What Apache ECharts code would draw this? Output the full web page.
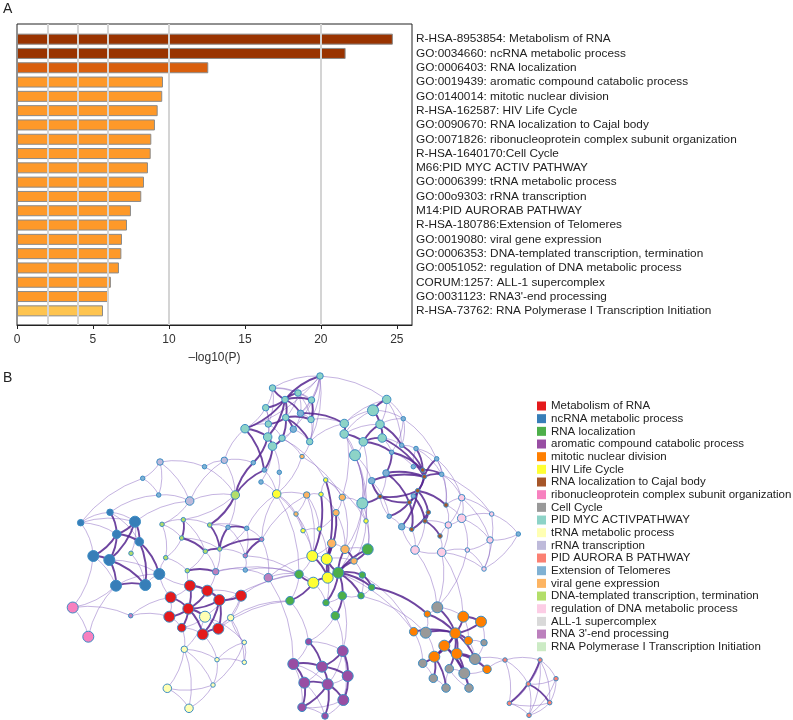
<!DOCTYPE html>
<html><head><meta charset="utf-8">
<script src="https://cdn.jsdelivr.net/npm/echarts@6/dist/echarts.min.js"></script>
<style>html,body{margin:0;padding:0;background:#fff}#c{width:793px;height:720px}</style>
</head><body><div id="c"></div>
<script>
// ---------- Panel A data ----------
const termLabels = [
  "R-HSA-8953854: Metabolism of RNA",
  "GO:0034660: ncRNA metabolic process",
  "GO:0006403: RNA localization",
  "GO:0019439: aromatic compound catabolic process",
  "GO:0140014: mitotic nuclear division",
  "R-HSA-162587: HIV Life Cycle",
  "GO:0090670: RNA localization to Cajal body",
  "GO:0071826: ribonucleoprotein complex subunit organization",
  "R-HSA-1640170:Cell Cycle",
  "M66:PID MYC ACTIV PATHWAY",
  "GO:0006399: tRNA metabolic process",
  "GO:00o9303: rRNA transcription",
  "M14:PID AURORAB PATHWAY",
  "R-HSA-180786:Extension of Telomeres",
  "GO:0019080: viral gene expression",
  "GO:0006353: DNA-templated transcription, termination",
  "GO:0051052: regulation of DNA metabolic process",
  "CORUM:1257: ALL-1 supercomplex",
  "GO:0031123: RNA3'-end processing",
  "R-HSA-73762: RNA Polymerase I Transcription Initiation"
];
const termValues = [24.74, 21.63, 12.59, 9.61, 9.56, 9.26, 9.08, 8.84, 8.80, 8.62,
                    8.36, 8.18, 7.50, 7.24, 6.91, 6.87, 6.71, 6.18, 6.05, 5.66];
const gridLineValues = [2, 4, 6, 10, 20];
const axisMax = 26;
const axisTickStep = 5;

// ---------- Panel B data ----------
const clusterNames = [
  "Metabolism of RNA", "ncRNA metabolic process", "RNA localization",
  "aromatic compound catabolic process", "mitotic nuclear division", "HIV Life Cycle",
  "RNA localization to Cajal body", "ribonucleoprotein complex subunit organization",
  "Cell Cycle", "PID MYC ACTIVPATHWAY", "tRNA metabolic process", "rRNA transcription",
  "PID AURORA B PATHWAY", "Extension of Telomeres", "viral gene expression",
  "DNA-templated transcription, termination", "regulation of DNA metabolic process",
  "ALL-1 supercomplex", "RNA 3'-end processing", "RNA Polymerase I Transcription Initiation"
];
const clusterColors = [
  "#e41a1c", "#377eb8", "#4daf4a", "#984ea3", "#ff7f00", "#ffff33", "#a65628", "#f781bf",
  "#999999", "#8dd3c7", "#ffffb3", "#bebada", "#fb8072", "#80b1d3", "#fdb462", "#b3de69",
  "#fccde5", "#d9d9d9", "#bc80bd", "#ccebc5"
];
// [id, layoutX, layoutY, sizeClass, cluster]
const nodes = [
  ['t0',260,6,2,9],['t1',212.5,18,2,9],['t2',238,23,2,9],['t3',225,29.5,2,9],['t4',251.5,30,2,9],
  ['t5',205.7,37.7,2,9],['t6',240.5,43.3,2,13],['t7',225.7,47.5,2,9],['t8',251,49.5,2,9],
  ['t9',185,58.7,3,9],['t10',208.3,54,2,9],['t11',233.3,59.2,2,13],['t12',207.7,67,3,9],
  ['t13',222,68.2,2,9],['t14',212.5,76.2,3,9],['t15',249.7,71.7,2,9],['t16',242,86.5,1,14],
  ['m0',284.3,53.5,3,9],['m1',284.2,64,3,9],['m2',303.3,71.8,3,9],['m3',313,40.3,4,9],
  ['m4',326.7,29.5,3,9],['m5',320,54.3,3,9],['m6',322.2,68,3,9],['m7',295,85.2,4,9],
  ['r0',343.3,48.7,1,13],['r1',341.7,75.3,1,13],['r2',356,78.5,1,13],['r3',331.7,82.3,1,13],
  ['r4',376.7,88.8,1,13],['r5',326,103,2,13],['r6',311.7,110.7,2,13],['r7',362.7,100,1,6],
  ['r8',364.3,106.7,1,6],['r9',381.7,104.3,1,13],['r10',357.7,120.7,1,6],['r11',353.3,126,1,13],
  ['r12',349.3,132.3,1,6],['r13',320,126.5,1,6],['r14',386,135,1,6],['r15',368.3,142.3,1,6],
  ['r16',365,151,1,6],['r17',329.2,146.3,1,13],['r18',341.7,156.7,2,13],['r19',351.7,159.3,1,6],
  ['r20',380,166,1,6],['r21',401.7,127.7,2,16],['r22',401.7,148.3,3,16],['r23',388.3,155,2,16],
  ['r24',431.7,144,1,16],['r25',458.3,164,1,13],['r26',430,170,2,16],['r27',407.3,180,1,16],
  ['r28',381.7,182.3,3,16],['r29',355,180,3,16],['r30',424,199,1,16],['r31',353.3,96.7,1,13],
  ['y0',216.7,124,3,5],['y1',246.7,125,2,14],['y2',261,124.3,1,5],['y3',265.7,110,1,5],
  ['y4',282.3,127.3,2,14],['y5',236,144,1,14],['y6',276,142.7,2,14],['y7',243,160.7,1,5],
  ['y8',259.3,159,1,5],['y9',306,151,1,5],['y10',302.3,133.3,4,9],['y11',271.7,173.3,3,14],
  ['y12',285,179.3,3,14],['y13',307.7,179.3,4,2],['y14',252.3,186,4,5],['y15',266.7,189,4,5],
  ['y16',294,191,2,14],['y17',239,204.3,3,2],['y18',253.3,212.7,4,5],['y19',267.7,207.7,4,5],
  ['y20',278.3,202.7,4,2],['y21',302.3,205,2,2],['y22',311.7,217.3,2,2],['y23',301,225.7,2,2],
  ['y24',282.3,225.7,3,2],['y25',230,230.7,3,2],['y26',266,232.7,2,2],['y27',275.3,245.7,3,2],
  ['y28',208.3,207.7,3,18],['y29',219.3,102.3,1,13],['y30',204.3,100,1,13],['y31',201,112,1,13],
  ['y32',193.3,92.7,1,13],['y33',175.3,125,3,15],
  ['l0',100,92,2,11],['l1',82.7,108.3,1,13],['l2',98.7,125,1,13],['l3',129.7,131,3,11],
  ['l4',144.5,96.7,1,13],['l5',164.3,90.3,2,11],
  ['b0',20.7,152.7,2,1],['b1',50,142.3,2,1],['b2',75,151.7,4,1],['b3',56.7,164.3,3,1],
  ['b4',79.3,171.7,3,1],['b5',33.3,186,4,1],['b6',49.3,190,4,1],['b7',56,215.7,4,1],
  ['b8',85.3,215,4,1],['b9',99.3,204,4,1],['b10',71,183.3,1,15],
  ['p0',12.7,237.5,4,7],['p1',28.3,266.7,4,7],['p2',70.7,245.7,1,18],
  ['g0',102,154.3,1,15],['g1',123.3,149.7,1,15],['g2',149.7,155,1,15],['g3',168,157.3,1,13],
  ['g4',186.7,158.3,1,13],['g5',121.7,168,1,15],['g6',159.7,179,1,15],['g7',145.3,181.3,1,15],
  ['g8',105.7,187.7,1,15],['g9',127.3,200.7,1,15],['g10',155.7,201.7,2,18],['g11',185.3,185.7,1,18],
  ['g12',201.7,169.3,1,18],['g13',185.3,200,1,13],
  ['e0',130,215.7,4,0],['e1',147.3,220.7,4,0],['e2',159.3,230,4,0],['e3',181,225.7,4,0],
  ['e4',110.7,227.3,4,0],['e5',128.3,238.7,4,0],['e6',109.3,246.7,4,0],['e7',121.7,257.7,3,0],
  ['e8',142.7,264.3,4,0],['e9',158.3,258.7,4,0],
  ['w0',145,246.7,4,10],['w1',170.7,247.7,2,10],['w2',124.3,279.3,2,10],['w3',184.3,272.3,1,10],
  ['w4',157,289.7,1,10],['w5',184.3,292.3,1,10],['w6',153,315,1,10],['w7',107.3,318.3,3,10],
  ['w8',129,338.3,3,10],
  ['a0',248.7,271.7,2,3],['a1',282.7,281,4,3],['a2',233.3,294,4,3],['a3',262,296.7,4,3],
  ['a4',287.7,306,4,3],['a5',244.3,312.7,4,3],['a6',267.7,314.3,4,3],['a7',283.3,330,4,3],
  ['a8',242,337.3,3,3],['a9',265,346,2,3],
  ['o0',377.3,237.3,4,8],['o1',367.3,244,2,4],['o2',403.3,246.7,4,4],['o3',421,251.7,4,4],
  ['o4',353.7,261.7,3,4],['o5',365.7,262.7,4,8],['o6',395.3,263.3,4,4],['o7',408.3,270.7,3,4],
  ['o8',424,272.7,2,8],['o9',384.3,275.7,4,4],['o10',374.3,286.7,4,4],['o11',396.7,283.7,4,4],
  ['o12',415,289,4,8],['o13',362.7,293.3,3,8],['o14',389.3,298.7,3,8],['o15',427,299.3,3,4],
  ['o16',404.3,303.3,4,8],['o17',373.3,308.3,3,8],['o18',386,318,3,8],['o19',409,318,3,8],
  ['o20',445,290,1,12],
  ['u0',480,290,1,12],['u1',496,308.7,1,12],['u2',468.3,314,1,12],['u3',489.7,332.7,1,12],
  ['u4',449.3,333.3,1,12],['u5',469,345.3,1,12]
];
const strongEdges = `t3-t0 t3-t1 t3-t2 t3-t4 t3-t5 t3-t7 t7-t10 t7-t13 t7-t8 t3-t9 t9-t12 t12-t14 t13-t14 t7-t15 t4-t8 t6-m0 t14-y30 t12-y32 t9-y30 t7-t11 t3-t6 t3-t12
m0-m1 m1-m2 m2-m5 m3-m5 m5-m6 m2-m6 m3-m4 m6-r8 m2-r3 m5-r1
r3-r7 r1-r7 r2-r7 r7-r8 r8-r10 r10-r12 r12-r13 r8-r9 r8-r4 r10-r15 r15-r16 r12-r17 r13-r6 r10-r14 r15-r19 r16-r20 r5-r8 r6-r8 r5-r12 r11-r16 r12-r19 r3-r5 r7-r9 r10-r18 r13-y10 r10-r13 r8-r12
y14-y19 y15-y19 y18-y19 y19-y20 y20-y12 y20-y16 y20-y13 y20-y21 y20-y24 y20-y23 y20-y22 y18-y17 y18-y25 y11-y15 y6-y15 y12-y16 y13-y16 y20-y26 y24-y27 y3-y15 y2-y14 y21-y22 y22-o1 y19-y11 y20-y15
a0-a3 a1-a3 a2-a3 a3-a4 a3-a6 a2-a5 a5-a6 a6-a7 a4-a7 a5-a8 a6-a9 a1-a4 a6-a8
e0-e5 e1-e5 e2-e5 e3-e2 e4-e5 e5-e6 e5-e7 e1-e2 e2-e8 e8-e9 e2-e9 e5-w0 e0-e1 e5-e8
b2-b3 b2-b4 b3-b4 b3-b5 b3-b6 b5-b6 b6-b7 b4-b8 b6-b8 b7-b8 b4-b9 b2-b6 b1-b3
y33-y32 y33-y30 y33-g2
g1-g5 g5-g7 g7-g6 g6-g3 g2-g6 g6-g12 g3-g4 g11-g12 g9-g10
o0-o6 o1-o6 o2-o6 o3-o6 o4-o6 o5-o6 o6-o9 o6-o10 o6-o11 o6-o12 o6-o14 o9-o10 o9-o13 o9-o16 o11-o16 o11-o12 o10-o17 o10-o18 o9-o19 o11-o15 o6-o7 o2-o3
u2-u3 u0-u4`;
const weakEdges = `t0-t2 t0-t4 t0-t6 t0-t8 t0-t15 t1-t2 t1-t5 t1-t10 t2-t4 t2-t6 t5-t10 t5-t9 t6-t8 t6-t11 t8-t15 t10-t12 t11-t13 t11-t15 t10-t13 t2-t7 t0-t11 t4-t6 t5-t12 t9-t10 t15-t16 t16-y0 t13-t16 t14-y29 t14-y31 t15-m0 t8-m0 t0-m4 t11-t14 t1-t0 t4-t15 t0-t9 t1-t4 t2-t8
m0-m3 m1-m7 m2-m7 m3-m6 m4-m5 m4-r0 m3-r0 m5-r0 m6-r1 m6-r3 m7-y10 m2-y10 m7-r6 m1-m3 m4-r1 m0-m4 m1-m5
r0-r1 r0-r4 r0-r3 r1-r2 r2-r4 r4-r9 r9-r21 r14-r21 r14-r22 r21-r22 r22-r23 r21-r24 r22-r24 r24-r25 r22-r26 r25-r26 r26-r30 r27-r30 r26-r27 r28-r27 r28-r29 r23-r28 r29-r18 r20-r28 r20-r23 r16-r29 r19-r29 r24-r30 r25-r30 r14-r23 r17-r18 r11-r12 r11-r10 r31-r7 r31-r2 r3-r31 r5-r13 r6-r17 r17-r13 r4-r21 r28-r30 r21-r26 r9-r14 r16-r23 r18-r19 r2-r9 r9-r24 r4-r14 r21-r23 r22-r27
r29-o0 r28-o0 r28-o2 r27-o0
y0-y1 y0-y5 y0-y7 y1-y5 y1-y2 y2-y3 y3-y4 y4-y6 y5-y7 y6-y8 y7-y8 y8-y14 y8-y15 y9-y13 y9-y10 y10-y13 y10-y12 y11-y12 y11-y14 y14-y15 y14-y17 y15-y16 y16-y21 y17-y25 y17-y18 y18-y26 y19-y26 y24-y26 y26-y27 y23-y24 y22-y23 y21-y23 y9-y16 y6-y11 y0-y17 y28-y17 y28-y14 y12-y13 y5-y14 y29-y0 y30-y0 y31-y0 y2-y6 y3-y9 y4-y10 m7-y9 m7-y10 y10-y20 y4-y12 y1-y14 y23-o5 y21-o4 t16-y4 t13-y3 m1-y9 m0-y4 y20-o4 y1-y8 y6-y12 y7-y14
y25-a0 y28-a2 y27-a1 y27-a0 y24-a1
a0-a2 a0-a1 a1-a6 a2-a6 a4-a6 a5-a9 a7-a9 a8-a9 a7-a8 a2-a8 a1-a7 a3-a5
e0-e4 e4-e6 e6-e7 e7-e8 e3-e9 e0-e2 e1-e3 e3-w1 e9-w1 w0-e9 w0-e7 e4-b9 e0-g9 e0-b9
w0-w2 w0-w3 w2-w4 w2-w7 w2-w8 w4-w6 w3-w5 w4-w5 w3-w1 w1-w5 w6-w7 w6-w8 w7-w8 w2-w6 w3-w6 w4-w3 e7-w2 e8-w4 w1-y25 w0-y17 e3-y17 e9-y25
b0-b1 b0-b3 b0-b5 b0-b2 b1-b2 b1-b4 b5-b7 b6-b9 b7-b9 b8-b9 b2-b10 b10-b8 b5-p0 b7-p0 p0-p1 p1-b7 p0-p2 p2-e6 p2-e4 b9-g8 b0-l1 b1-l2 b2-l3 l0-l1 l0-l2 l1-l2 l0-l3 l0-l4 l4-l5 l3-l5 l5-y32 l3-y33 l2-l3 l3-g0 l4-y33 l5-y33 y33-g1 y33-g3 l5-t9
g0-g1 g0-g5 g1-g2 g2-g3 g5-g6 g4-g6 g6-g10 g7-g10 g8-g9 g5-g8 g10-e1 g4-g12 g11-g13 g4-g11 g6-g11 g12-y28 g13-y28 g11-y17 g3-g11 g0-g8 g7-g9 g10-g13 g4-y0 g12-y0 g1-g7 g2-g4 g13-y17 g10-y17 g12-y1
o0-o1 o0-o2 o1-o5 o4-o5 o4-o13 o5-o10 o7-o8 o3-o8 o8-o12 o12-o15 o15-o16 o16-o19 o13-o17 o17-o18 o18-o14 o14-o16 o19-o14 o15-o20 o12-o20 o20-u0 o20-u2 o20-u4 o7-o12 o10-o13 o2-o7
u0-u1 u0-u2 u0-u3 u1-u2 u1-u3 u1-u5 u2-u4 u2-u5 u3-u4 u3-u5 u4-u5 u0-u5`;

// ---------- build ----------
const FONT = "'Liberation Sans', Arial, Helvetica, sans-serif";
const sizeByClass = {1: 4.5, 2: 6.5, 3: 8.5, 4: 11};
function barColor(v) {
  if (v > 20) return '#993300';
  if (v > 10) return '#d95f0e';
  if (v >= 6) return '#fe9929';
  return '#fec44f';
}
function parseEdges(str, style) {
  return str.trim().split(/\s+/).map(p => {
    const [s, t] = p.split('-');
    return {source: s, target: t, lineStyle: style};
  });
}
const strongStyle = {color: '#55248f', width: 1.9, opacity: 0.85};
const weakStyle = {color: '#8a68c2', width: 1, opacity: 0.5};
const links = parseEdges(weakEdges, weakStyle).concat(parseEdges(strongEdges, strongStyle));

const chart = echarts.init(document.getElementById('c'), null, {renderer: 'canvas'});
chart.setOption({
  animation: false,
  backgroundColor: '#ffffff',
  textStyle: {fontFamily: FONT},
  graphic: [
    {type: 'text', left: 3, top: 2, style: {text: 'A', font: '14px ' + FONT, fill: '#222'}},
    {type: 'text', left: 3, top: 371, style: {text: 'B', font: '14px ' + FONT, fill: '#222'}}
  ],
  grid: [
    {left: 17, top: 24, width: 395, height: 301, show: true, borderColor: '#222', borderWidth: 1,
     backgroundColor: 'transparent', outerBoundsMode: 'none', containLabel: false},
    {left: 17, top: 32, width: 395, height: 286, outerBoundsMode: 'none', containLabel: false},
    {left: 60, top: 370, width: 500, height: 350, outerBoundsMode: 'none', containLabel: false}
  ],
  xAxis: [
    {gridIndex: 0, type: 'value', min: 0, max: axisMax, interval: axisTickStep,
     axisLine: {show: true, lineStyle: {color: '#222', width: 1}},
     axisTick: {show: true, length: 4, lineStyle: {color: '#222'}},
     axisLabel: {fontSize: 12, color: '#333', margin: 9, showMaxLabel: false, fontFamily: FONT},
     splitLine: {show: false},
     name: '\u2013log10(P)', nameLocation: 'middle', nameGap: 27,
     nameTextStyle: {fontSize: 12, color: '#333', fontFamily: FONT}},
    {gridIndex: 1, type: 'value', min: 0, max: axisMax, show: false},
    {gridIndex: 2, type: 'value', min: 0, max: 500, show: false}
  ],
  yAxis: [
    {gridIndex: 0, type: 'value', min: 0, max: 1, show: false},
    {gridIndex: 1, type: 'category', data: termLabels, inverse: true, position: 'right',
     axisLine: {show: false}, axisTick: {show: false}, splitLine: {show: false},
     axisLabel: {interval: 0, margin: 4, fontSize: 11.8, color: '#222', fontFamily: FONT, align: 'left'}},
    {gridIndex: 2, type: 'value', min: 0, max: 350, inverse: true, show: false}
  ],
  legend: {
    data: clusterNames, orient: 'vertical', left: 532, top: 395,
    itemWidth: 9, itemHeight: 9, itemGap: 0.67, icon: 'rect',
    itemStyle: {borderWidth: 0},
    textStyle: {fontSize: 11.5, color: '#222', lineHeight: 12, fontFamily: FONT},
    selectedMode: false
  },
  series: [
    {type: 'line', xAxisIndex: 0, yAxisIndex: 0, data: [], z: 1, silent: true,
     markLine: {silent: true, symbol: 'none', label: {show: false},
       lineStyle: {color: '#d4d4d4', width: 2, type: 'solid'},
       data: gridLineValues.map(v => ({xAxis: v}))}},
    {type: 'bar', xAxisIndex: 1, yAxisIndex: 1, z: 3, barWidth: 11, silent: true,
     data: termValues,
     itemStyle: {color: p => barColor(p.value), borderColor: '#8a8a8a', borderWidth: 1}},
    {type: 'graph', coordinateSystem: 'cartesian2d', xAxisIndex: 2, yAxisIndex: 2,
     symbol: 'circle', silent: true, legendHoverLink: false,
     categories: clusterNames.map((nm, i) => ({name: nm, itemStyle: {color: clusterColors[i]}})),
     data: nodes.map(n => ({name: n[0], value: [n[1], n[2]], category: n[4], symbolSize: sizeByClass[n[3]]})),
     links: links,
     itemStyle: {borderColor: '#3d8dc4', borderWidth: 1},
     lineStyle: {curveness: 0.15},
     label: {show: false},
     emphasis: {disabled: true}}
  ]
});
</script>
</body></html>
